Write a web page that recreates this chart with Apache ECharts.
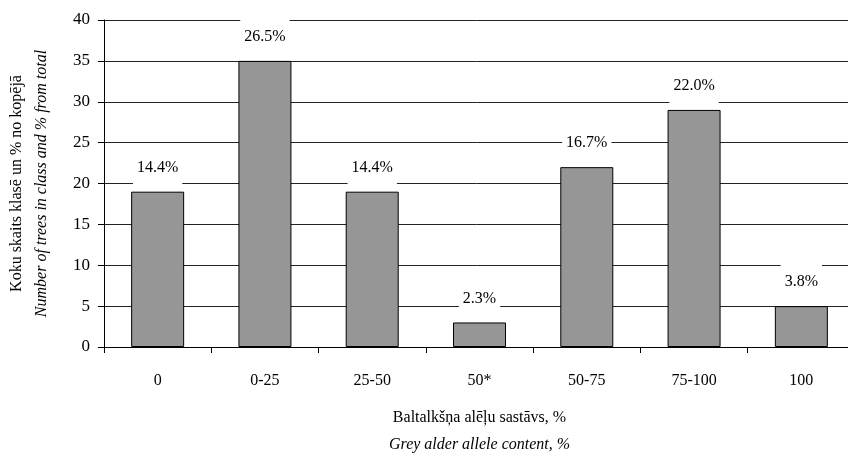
<!DOCTYPE html>
<html>
<head>
<meta charset="utf-8">
<script src="https://cdn.jsdelivr.net/npm/echarts@6/dist/echarts.min.js"></script>
<style>html,body{margin:0;padding:0;background:#fff}#c{width:848px;height:462px}</style>
</head>
<body>
<div id="c"></div>
<script>
const categories = ['0', '0-25', '25-50', '50*', '50-75', '75-100', '100'];
const treeCounts = [19, 35, 19, 3, 22, 29, 5];
const percentLabels = ['14.4%', '26.5%', '14.4%', '2.3%', '16.7%', '22.0%', '3.8%'];
const yTicks = [0, 5, 10, 15, 20, 25, 30, 35, 40];

const FONT = '"Liberation Serif", "DejaVu Serif", serif';
const chart = echarts.init(document.getElementById('c'));
chart.setOption({
  animation: false,
  backgroundColor: '#fff',
  textStyle: { fontFamily: FONT, color: '#000' },
  grid: { left: 104, top: 20, width: 751, height: 327, containLabel: false, outerBoundsMode: 'none' },
  xAxis: {
    type: 'category',
    data: categories,
    axisLine: { lineStyle: { color: '#000', width: 1 } },
    axisTick: { show: true, length: 6, inside: false, lineStyle: { color: '#000' } },
    axisLabel: { fontFamily: FONT, fontSize: 16, color: '#000', margin: 26 },
    name: '{a|Baltalkšņa alēļu sastāvs, %}\n{b|Grey alder allele content, %}',
    nameLocation: 'middle',
    nameGap: 57,
    nameTextStyle: {
      fontFamily: FONT, color: '#000',
      rich: {
        a: { fontFamily: FONT, fontSize: 16, color: '#000', lineHeight: 27 },
        b: { fontFamily: FONT, fontSize: 16, fontStyle: 'italic', color: '#000', lineHeight: 27 }
      }
    }
  },
  yAxis: {
    type: 'value',
    min: yTicks[0],
    max: yTicks[yTicks.length - 1],
    interval: 5,
    axisLine: { show: true, lineStyle: { color: '#000', width: 1 } },
    axisTick: { show: true, length: 6, lineStyle: { color: '#000' } },
    axisLabel: { fontFamily: FONT, fontSize: 17, color: '#000', margin: 14 },
    splitLine: { show: true, lineStyle: { color: '#222', width: 1 } },
    name: '{a|Koku skaits klasē un % no kopējā}\n{b|Number of trees in class and % from total}',
    nameLocation: 'middle',
    nameRotate: 90,
    nameGap: 50,
    nameTextStyle: {
      fontFamily: FONT, color: '#000',
      rich: {
        a: { fontFamily: FONT, fontSize: 16, color: '#000', lineHeight: 25 },
        b: { fontFamily: FONT, fontSize: 16, fontStyle: 'italic', color: '#000', lineHeight: 25 }
      }
    }
  },
  series: [{
    type: 'bar',
    data: treeCounts,
    barWidth: 53,
    itemStyle: { color: '#969696', borderColor: '#000', borderWidth: 1 },
    label: {
      show: true,
      position: 'top',
      distance: 4,
      formatter: p => percentLabels[p.dataIndex],
      fontFamily: FONT,
      fontSize: 16,
      color: '#000',
      backgroundColor: '#fff',
      padding: [12, 4]
    },
    z: 3
  }]
});
</script>
</body>
</html>
